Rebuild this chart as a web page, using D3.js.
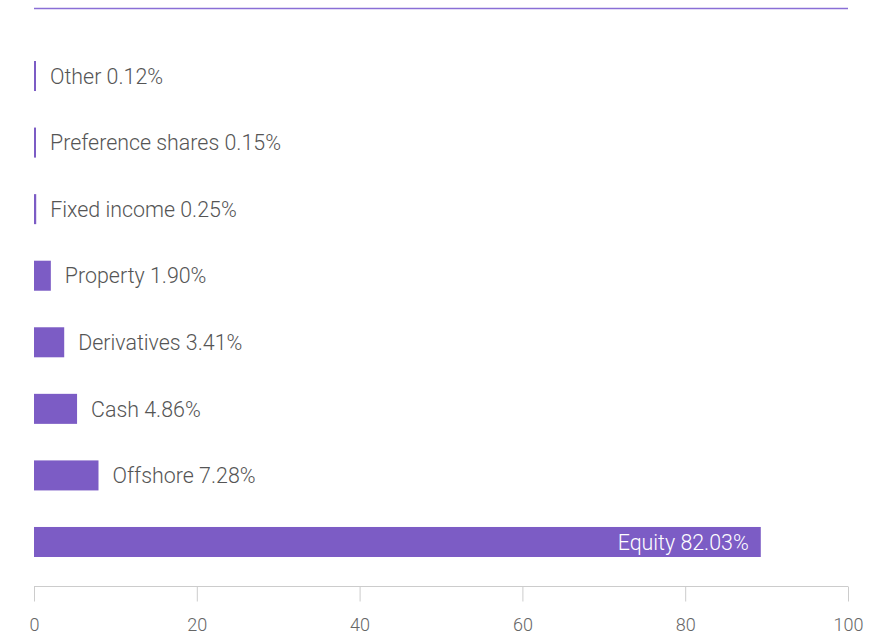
<!DOCTYPE html>
<html>
<head>
<meta charset="utf-8">
<script src="https://cdn.jsdelivr.net/npm/d3@7"></script>
<style>
  body { margin: 0; background: #fff; }
  text { font-family: "Roboto", "Liberation Sans", sans-serif; font-weight: 300; }
</style>
</head>
<body>
<div id="chart"></div>
<script>
const categories = ["Other", "Preference shares", "Fixed income", "Property", "Derivatives", "Cash", "Offshore", "Equity"];
const values = [0.12, 0.15, 0.25, 1.90, 3.41, 4.86, 7.28, 82.03];
const axisTicks = [0, 20, 40, 60, 80, 100];

const w = 872;
const h = 634;
const purple = "#7c5cc5";

const svg = d3.select("#chart").append("svg").attr("width", w).attr("height", h);

// axis runs 0..100, bars are drawn a bit longer than the axis scale (as in the original)
const x = d3.scaleLinear([0, 100], [34, 848]);
const barLen = d3.scaleLinear([0, 100], [0, 886]);

const y = d3.scaleBand(categories, [61, 557]).paddingInner(0.549).paddingOuter(0);

const data = categories.map((c, i) => ({ name: c, value: values[i] }));

// top rule
svg.append("line")
  .attr("x1", x(0)).attr("x2", x(100))
  .attr("y1", 8.5).attr("y2", 8.5)
  .attr("stroke", "#8a6fd6")
  .attr("stroke-width", 1.5);

svg.selectAll(".bar")
  .data(data)
  .enter()
  .append("rect")
  .attr("class", "bar")
  .attr("x", x(0))
  .attr("y", (d) => y(d.name))
  .attr("width", (d) => Math.max(2, barLen(d.value)))
  .attr("height", y.bandwidth())
  .attr("fill", purple);

svg.selectAll(".lbl")
  .data(data)
  .enter()
  .append("text")
  .attr("class", "lbl")
  .attr("x", (d) => {
    const end = x(0) + Math.max(2, barLen(d.value));
    return d.value > 50 ? end - 12 : end + 14;
  })
  .attr("y", (d) => y(d.name) + y.bandwidth() / 2)
  .attr("dy", "0.36em")
  .attr("text-anchor", (d) => (d.value > 50 ? "end" : "start"))
  .attr("fill", (d) => (d.value > 50 ? "#fff" : "#555"))
  .style("font-size", "21.4px")
  .text((d) => `${d.name} ${d.value.toFixed(2)}%`);

const gx = svg.append("g")
  .attr("transform", "translate(0,586.5)")
  .call(d3.axisBottom(x).tickValues(axisTicks).tickSize(15).tickPadding(17));

gx.select(".domain").attr("stroke", "#ccc").attr("d", `M${x(0)},0H${x(100)}`);
gx.selectAll(".tick line").attr("stroke", "#ccc");
gx.selectAll(".tick text")
  .attr("fill", "#666")
  .style("font-size", "18px");
</script>
</body>
</html>
